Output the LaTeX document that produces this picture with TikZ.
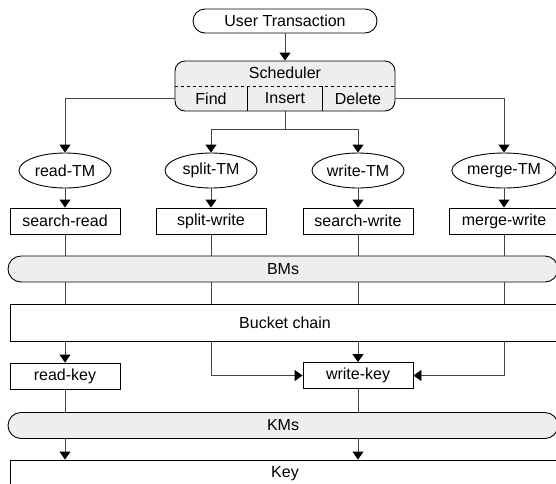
\documentclass[tikz,border=0pt]{standalone}
\usepackage{fontspec}
\setmainfont{Liberation Sans}
\usetikzlibrary{arrows.meta}
\usetikzlibrary{positioning}
\usetikzlibrary{shapes.geometric}
\definecolor{barfill}{HTML}{EEEEEE}
\definecolor{wirecol}{HTML}{444444}
\tikzset{tip/.style = {-{Triangle[width=11pt,length=8pt,color=black]}}}
\tikzset{wire/.style = {draw=wirecol, line width=0.9pt}}
\tikzset{pill/.style = {draw, line width=0.9pt, inner sep=0, minimum height=26pt, rounded corners=13pt}}
\tikzset{cell/.style = {draw, line width=0.9pt, inner sep=0, minimum width=110pt, minimum height=26pt}}
\tikzset{tm/.style = {draw, ellipse, line width=0.9pt, inner sep=0, minimum width=92pt, minimum height=35pt}}
\tikzset{every node/.append style = {font=\fontsize{16}{18}\selectfont}}

\begin{document}
\begin{tikzpicture}[x=1pt, y=-1pt]
      \clip (0, 0) rectangle (556, 483);

      \node [pill, minimum width=184pt, minimum height=24pt, rounded corners=12pt] (user) at (285, 21) {User Transaction};

      % scheduler with its three parts
      \node [draw, fill=barfill, line width=0.9pt, rounded corners=10pt, minimum width=220pt, minimum height=50pt] (sched) at (285, 86) {};
      \node (schedname) at (285, 73) {Scheduler};
      \node (find) at (211, 98.5) {Find};
      \node (insert) at (285, 98.5) {Insert};
      \node (delete) at (358, 98.5) {Delete};
      \draw [dashed, line width=0.7pt] (sched.west) -- (sched.east);
      \draw [line width=0.9pt] (247, 86) -- (247, 111);
      \draw [line width=0.9pt] (322, 86) -- (322, 111);

      \node [tm] (readtm) at (65, 170.5) {read-TM};
      \node [tm] (splittm) at (211, 170.5) {split-TM};
      \node [tm] (writetm) at (358, 170.5) {write-TM};
      \node [tm] (mergetm) at (504, 170.5) {merge-TM};

      \node [cell] (searchread) at (65, 221) {search-read};
      \node [cell] (splitwrite) at (211, 221) {split-write};
      \node [cell] (searchwrite) at (358, 221) {search-write};
      \node [cell] (mergewrite) at (504, 221) {merge-write};

      \node [pill, fill=barfill, minimum width=550pt] (bms) at (283, 269) {BMs};
      \node [cell, minimum width=550pt, minimum height=37pt] (chain) at (285, 322.5) {Bucket chain};

      \node [cell] (readkey) at (65, 376) {read-key};
      \node [cell] (writekey) at (358, 375.5) {write-key};

      \node [pill, fill=barfill, minimum width=550pt] (kms) at (283, 425.5) {KMs};
      \node [cell, minimum width=550pt, minimum height=28pt] (keybox) at (285, 474) {Key};

      \draw [wire, tip] (user) -- (sched);
      \draw [wire, tip] (sched.west |- find) -| (readtm);
      \draw [wire, tip] (sched.east |- delete) -| (mergetm);
      \draw [wire] (insert |- sched.south) -- ++(0, 18) coordinate (fork);
      \draw [wire, tip] (fork) -| (splittm);
      \draw [wire, tip] (fork) -| (writetm);

      \draw [wire, tip] (readtm) -- (searchread);
      \draw [wire, tip] (splittm) -- (splitwrite);
      \draw [wire, tip] (writetm) -- (searchwrite);
      \draw [wire, tip] (mergetm) -- (mergewrite);

      \foreach \col in {searchread, splitwrite, searchwrite, mergewrite} {
        \draw [wire] (\col) -- (\col |- bms.north);
        \draw [wire] (bms.south -| \col) -- (chain.north -| \col);
      }

      \draw [wire, tip] (chain.south -| readkey) -- (readkey);
      \draw [wire, tip] (chain.south -| splitwrite) |- (writekey);
      \draw [wire, tip] (chain.south -| writekey) -- (writekey);
      \draw [wire, tip] (chain.south -| mergewrite) |- (writekey);

      \draw [wire] (readkey) -- (readkey |- kms.north);
      \draw [wire] (writekey) -- (writekey |- kms.north);
      \draw [wire, tip] (kms.south -| readkey) -- (keybox.north -| readkey);
      \draw [wire, tip] (kms.south -| writekey) -- (keybox.north -| writekey);
    \end{tikzpicture}
\end{document}
